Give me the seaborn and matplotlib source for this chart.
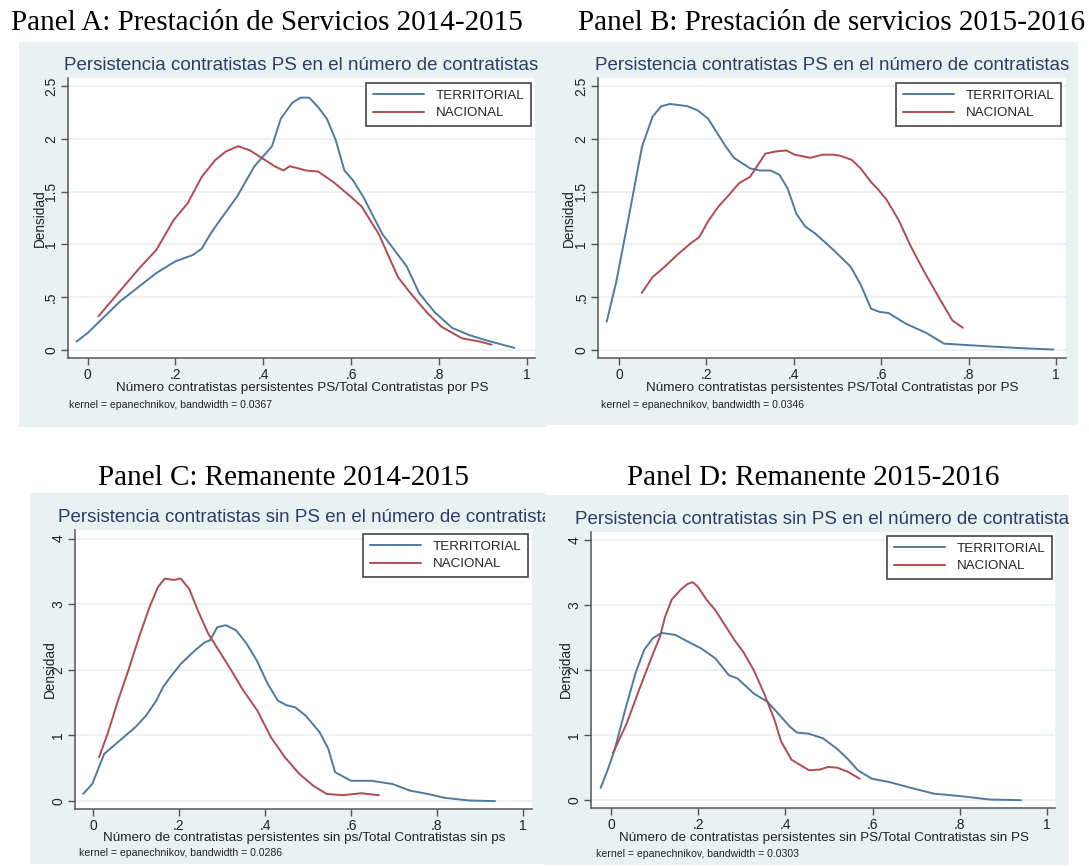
import matplotlib
matplotlib.use("Agg")
import matplotlib.pyplot as plt
from matplotlib.patches import Rectangle
from matplotlib.lines import Line2D
import pandas as pd
import seaborn as sns

sns.set_theme(style="white")
plt.rcParams['font.family'] = ['Liberation Sans', 'DejaVu Sans']

# ---------------- data: kernel density estimates ----------------
series_names = ["TERRITORIAL", "NACIONAL"]

# Panel A: Prestación de Servicios 2014-2015
a_terr_x = [-0.025, 0.0, 0.074, 0.117, 0.157, 0.2, 0.24, 0.26, 0.28, 0.30, 0.34, 0.38, 0.42, 0.44,
            0.466, 0.485, 0.505, 0.525, 0.545, 0.565, 0.585, 0.604, 0.628, 0.671, 0.727, 0.755,
            0.79, 0.83, 0.87, 0.909, 0.972]
a_terr_y = [0.08, 0.16, 0.46, 0.60, 0.73, 0.84, 0.90, 0.96, 1.10, 1.22, 1.45, 1.74, 1.93, 2.19,
            2.34, 2.39, 2.39, 2.30, 2.19, 1.99, 1.70, 1.61, 1.45, 1.10, 0.79, 0.54,
            0.36, 0.21, 0.14, 0.09, 0.02]
a_nac_x = [0.025, 0.07, 0.117, 0.157, 0.196, 0.228, 0.26, 0.291, 0.315, 0.343, 0.37, 0.40, 0.426,
           0.446, 0.46, 0.48, 0.497, 0.525, 0.56, 0.60, 0.624, 0.663, 0.707, 0.735, 0.774, 0.806,
           0.853, 0.893, 0.92]
a_nac_y = [0.32, 0.54, 0.77, 0.95, 1.23, 1.39, 1.64, 1.80, 1.88, 1.93, 1.89, 1.81, 1.74,
           1.70, 1.74, 1.72, 1.70, 1.69, 1.59, 1.45, 1.36, 1.10, 0.69, 0.54, 0.35, 0.22,
           0.11, 0.08, 0.05]

# Panel B: Prestación de servicios 2015-2016
b_terr_x = [-0.028, -0.006, 0.021, 0.053, 0.077, 0.097, 0.117, 0.156, 0.18, 0.204, 0.244, 0.263,
            0.30, 0.323, 0.347, 0.367, 0.386, 0.406, 0.426, 0.45, 0.49, 0.53, 0.553, 0.577, 0.597,
            0.617, 0.656, 0.704, 0.744, 0.783, 0.863, 0.942, 0.994]
b_terr_y = [0.27, 0.65, 1.23, 1.93, 2.21, 2.31, 2.33, 2.31, 2.27, 2.19, 1.93, 1.82,
            1.72, 1.70, 1.70, 1.66, 1.53, 1.29, 1.17, 1.10, 0.95, 0.79, 0.62, 0.39, 0.36,
            0.35, 0.25, 0.16, 0.06, 0.05, 0.03, 0.013, 0.005]
b_nac_x = [0.052, 0.077, 0.105, 0.133, 0.164, 0.184, 0.204, 0.228, 0.252, 0.275, 0.30, 0.335,
           0.359, 0.383, 0.402, 0.438, 0.466, 0.49, 0.506, 0.533, 0.553, 0.577, 0.593, 0.613,
           0.64, 0.668, 0.70, 0.736, 0.763, 0.787]
b_nac_y = [0.54, 0.69, 0.79, 0.90, 1.01, 1.07, 1.22, 1.36, 1.47, 1.58, 1.64, 1.86,
           1.88, 1.89, 1.85, 1.82, 1.85, 1.85, 1.84, 1.80, 1.72, 1.59, 1.52, 1.42,
           1.23, 0.98, 0.73, 0.47, 0.28, 0.21]

# Panel C: Remanente 2014-2015
c_terr_x = [-0.023, -0.002, 0.026, 0.058, 0.099, 0.123, 0.147, 0.163, 0.18, 0.204, 0.236, 0.26,
            0.272, 0.289, 0.309, 0.333, 0.357, 0.381, 0.406, 0.43, 0.45, 0.47, 0.495, 0.527,
            0.547, 0.563, 0.60, 0.648, 0.697, 0.737, 0.778, 0.818, 0.875, 0.935]
c_terr_y = [0.11, 0.26, 0.72, 0.90, 1.13, 1.30, 1.53, 1.74, 1.89, 2.09, 2.29, 2.42,
            2.45, 2.65, 2.68, 2.60, 2.40, 2.14, 1.79, 1.53, 1.46, 1.43, 1.30, 1.05,
            0.80, 0.44, 0.31, 0.31, 0.26, 0.16, 0.11, 0.05, 0.01, 0.0]
c_nac_x = [0.014, 0.034, 0.058, 0.082, 0.107, 0.131, 0.151, 0.167, 0.188, 0.204, 0.224, 0.244,
           0.268, 0.293, 0.317, 0.349, 0.382, 0.414, 0.446, 0.479, 0.511, 0.543, 0.58, 0.624,
           0.665]
c_nac_y = [0.67, 1.03, 1.53, 1.99, 2.50, 2.95, 3.26, 3.39, 3.37, 3.39, 3.23, 2.90,
           2.55, 2.29, 2.04, 1.69, 1.38, 0.97, 0.67, 0.42, 0.24, 0.11, 0.09, 0.12,
           0.09]

# Panel D: Remanente 2015-2016
d_terr_x = [-0.024, -0.008, 0.008, 0.032, 0.056, 0.076, 0.096, 0.116, 0.147, 0.175, 0.207, 0.239,
            0.27, 0.29, 0.327, 0.359, 0.39, 0.41, 0.426, 0.454, 0.486, 0.518, 0.542, 0.566,
            0.598, 0.637, 0.693, 0.741, 0.805, 0.869, 0.94]
d_terr_y = [0.19, 0.46, 0.77, 1.38, 1.95, 2.31, 2.49, 2.57, 2.54, 2.44, 2.33, 2.18,
            1.92, 1.87, 1.64, 1.51, 1.28, 1.13, 1.04, 1.02, 0.95, 0.79, 0.64, 0.46,
            0.33, 0.28, 0.18, 0.10, 0.06, 0.01, 0.0]
d_nac_x = [0.004, 0.036, 0.064, 0.092, 0.112, 0.124, 0.139, 0.159, 0.175, 0.187, 0.199, 0.219,
           0.239, 0.263, 0.283, 0.303, 0.327, 0.351, 0.375, 0.39, 0.414, 0.434, 0.454, 0.478,
           0.498, 0.518, 0.542, 0.57]
d_nac_y = [0.72, 1.18, 1.69, 2.18, 2.51, 2.82, 3.08, 3.23, 3.32, 3.35, 3.28, 3.08,
           2.92, 2.67, 2.46, 2.28, 2.00, 1.64, 1.23, 0.90, 0.62, 0.54, 0.46, 0.47,
           0.51, 0.50, 0.44, 0.33]

# ---------------- text ----------------
headings = ["Panel A: Prestación de Servicios 2014-2015",
            "Panel B: Prestación de servicios 2015-2016",
            "Panel C: Remanente 2014-2015",
            "Panel D: Remanente 2015-2016"]
titles = ["Persistencia contratistas PS en el número de contratistas",
          "Persistencia contratistas PS en el número de contratistas",
          "Persistencia contratistas sin PS en el número de contratistas",
          "Persistencia contratistas sin PS en el número de contratistas"]
xlabels = ["Número contratistas persistentes PS/Total Contratistas por PS",
           "Número contratistas persistentes PS/Total Contratistas por PS",
           "Número de contratistas persistentes sin ps/Total Contratistas sin ps",
           "Número de contratistas persistentes sin PS/Total Contratistas sin PS"]
notes = ["kernel = epanechnikov, bandwidth = 0.0367",
         "kernel = epanechnikov, bandwidth = 0.0346",
         "kernel = epanechnikov, bandwidth = 0.0286",
         "kernel = epanechnikov, bandwidth = 0.0303"]
ylabel_text = "Densidad"

x_ticks = [0, 0.2, 0.4, 0.6, 0.8, 1.0]
x_ticklabels = ["0", ".2", ".4", ".6", ".8", "1"]
y_ticks_ps = [0, 0.5, 1, 1.5, 2, 2.5]
y_ticklabels_ps = ["0", ".5", "1", "1.5", "2", "2.5"]
y_ticks_rem = [0, 1, 2, 3, 4]
y_ticklabels_rem = ["0", "1", "2", "3", "4"]

# ---------------- styling ----------------
W, H = 1089, 867
BG = "#EAF1F3"
TITLE_C = "#2C3E66"
TERR_C = "#4E7A9F"
NAC_C = "#B24A52"
AXIS_C = "#555555"
GRID_C = "#E9EFF1"


def fx(x):
    return x / W


def fy(y):
    return 1 - y / H


panels = [
    dict(data=(a_terr_x, a_terr_y, a_nac_x, a_nac_y), yt=(y_ticks_ps, y_ticklabels_ps),
         ax=(67.8, 78, 535, 358), bg=(19, 42, 547, 427), head=(267, 23), title=(301, 65, "center"),
         xlab=(302, 388), note=(69, 405), ylab=(40, 218), xlim=(-0.045, 1.019), ylim=(-0.076, 2.576),
         leg=(531, 83)),
    dict(data=(b_terr_x, b_terr_y, b_nac_x, b_nac_y), yt=(y_ticks_ps, y_ticklabels_ps),
         ax=(598, 78, 1066, 358), bg=(547, 42, 1078, 425), head=(832, 23), title=(832, 65, "center"),
         xlab=(832, 388), note=(601, 405), ylab=(569, 218), xlim=(-0.048, 1.023), ylim=(-0.076, 2.576),
         leg=(1061, 83)),
    dict(data=(c_terr_x, c_terr_y, c_nac_x, c_nac_y), yt=(y_ticks_rem, y_ticklabels_rem),
         ax=(75, 530, 532, 809), bg=(30, 493, 545, 864), head=(283, 478), title=(58, 517, "left"),
         xlab=(304, 838), note=(79, 853), ylab=(50, 669), xlim=(-0.042, 1.021), ylim=(-0.12, 4.13),
         leg=(528, 534)),
    dict(data=(d_terr_x, d_terr_y, d_nac_x, d_nac_y), yt=(y_ticks_rem, y_ticklabels_rem),
         ax=(591, 532, 1055, 808), bg=(545, 495, 1069, 865), head=(813, 478), title=(575, 519, "left"),
         xlab=(824, 838), note=(596, 854), ylab=(566, 669), xlim=(-0.046, 1.018), ylim=(-0.12, 4.12),
         leg=(1052, 536)),
]

fig = plt.figure(figsize=(W / 100, H / 100), dpi=100)
fig.patch.set_facecolor("white")

for i, p in enumerate(panels):
    # light panel background, kept beneath the axes
    x0, y0, x1, y1 = p["bg"]
    rect = Rectangle((fx(x0), fy(y1)), fx(x1 - x0), (y1 - y0) / H, transform=fig.transFigure,
                     facecolor=BG, edgecolor="none", zorder=-5)
    fig.patches.append(rect)

    # serif panel heading
    fig.text(fx(p["head"][0]), fy(p["head"][1]), headings[i], family="Liberation Serif",
             fontsize=21, color="black", ha="center", va="center")

    # graph title, clipped by the panel background
    tx, ty, tha = p["title"]
    t = fig.text(fx(tx), fy(ty), titles[i], fontsize=13.5, color=TITLE_C, ha=tha, va="center")
    t.set_clip_path(rect)
    t.set_clip_on(True)

    # plot region
    l, tp, r, b = p["ax"]
    ax = fig.add_axes([fx(l), fy(b), fx(r - l), (b - tp) / H])
    ax.set_zorder(2)
    ax.set_facecolor("white")

    tx_, ty_, nx_, ny_ = p["data"]
    df = pd.concat([
        pd.DataFrame({"x": tx_, "y": ty_, "grupo": series_names[0]}),
        pd.DataFrame({"x": nx_, "y": ny_, "grupo": series_names[1]}),
    ])
    sns.lineplot(data=df, x="x", y="y", hue="grupo", palette=[TERR_C, NAC_C], hue_order=series_names,
                 linewidth=1.4, ax=ax, legend=False, estimator=None, sort=False)

    yt, ytl = p["yt"]
    ax.set_xlim(*p["xlim"])
    ax.set_ylim(*p["ylim"])
    ax.set_xticks(x_ticks)
    ax.set_xticklabels(x_ticklabels)
    ax.set_yticks(yt)
    ax.set_yticklabels(ytl, rotation=90, va="center")
    ax.tick_params(axis="both", direction="out", length=5, width=1, color=AXIS_C,
                   labelsize=10, labelcolor="#222222", pad=3)
    ax.tick_params(axis="x", bottom=True, pad=2)
    ax.tick_params(axis="y", left=True, pad=2)
    for yv in yt:
        ax.axhline(yv, color=GRID_C, linewidth=1.2, zorder=0)
    for s in ["top", "right"]:
        ax.spines[s].set_visible(False)
    for s in ["left", "bottom"]:
        ax.spines[s].set_color(AXIS_C)
        ax.spines[s].set_linewidth(1.1)
    ax.set_xlabel("")
    ax.set_ylabel("")

    fig.text(fx(p["ylab"][0]), fy(p["ylab"][1]), ylabel_text, rotation=90, fontsize=9.8,
             color="#222222", ha="center", va="center")
    fig.text(fx(p["xlab"][0]), fy(p["xlab"][1]), xlabels[i], fontsize=9.7, color="#222222",
             ha="center", va="center")
    fig.text(fx(p["note"][0]), fy(p["note"][1]), notes[i], fontsize=7.6, color="#222222",
             ha="left", va="center")

    handles = [Line2D([], [], color=TERR_C, linewidth=1.4), Line2D([], [], color=NAC_C, linewidth=1.4)]
    leg = ax.legend(handles, series_names, loc="upper right",
                    bbox_to_anchor=(fx(p["leg"][0]), fy(p["leg"][1])),
                    bbox_transform=fig.transFigure, borderaxespad=0, fontsize=9.6,
                    handlelength=3.8, handletextpad=0.9, labelspacing=0.38, borderpad=0.5,
                    frameon=True, fancybox=False, framealpha=1)
    leg.get_frame().set_edgecolor("#444444")
    leg.get_frame().set_linewidth(1.2)

fig.savefig("out.png", dpi=100, facecolor="white")
